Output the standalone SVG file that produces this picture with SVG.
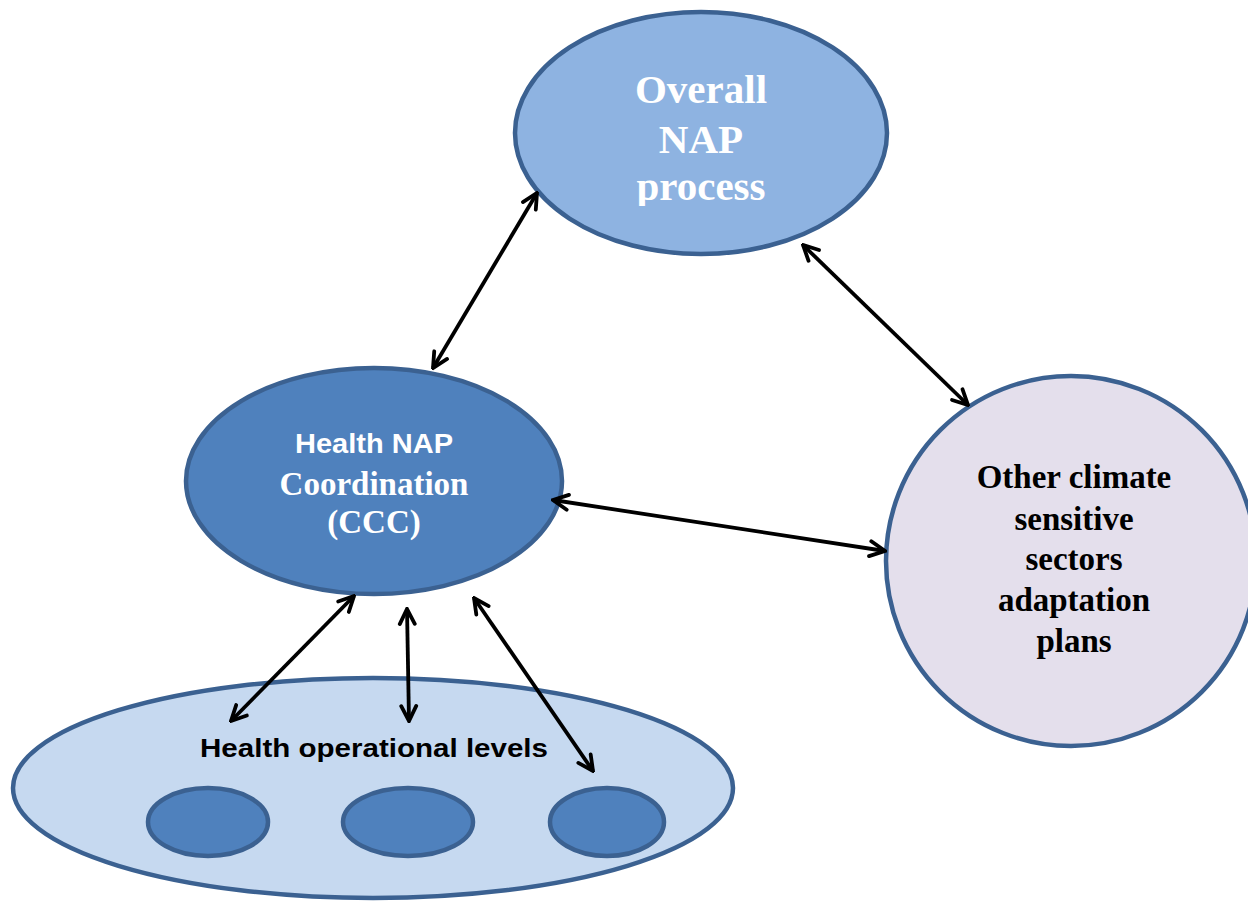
<svg xmlns="http://www.w3.org/2000/svg" width="1248" height="902" viewBox="0 0 1248 902">
  <style>
    .edge { stroke: #3b6191; stroke-width: 4.5; }
    .serif { font-family: "Liberation Serif", "Times New Roman", serif; font-weight: bold; text-anchor: middle; }
    .sans { font-family: "Liberation Sans", Arial, sans-serif; font-weight: bold; text-anchor: middle; }
    .link { stroke: #000; stroke-width: 3.8; fill: none; marker-start: url(#head); marker-end: url(#head); }
  </style>
  <defs>
    <marker id="head" viewBox="0 0 20 20" refX="18" refY="10" markerWidth="20" markerHeight="20" markerUnits="userSpaceOnUse" orient="auto-start-reverse">
      <path d="M3,2.5 L18,10 L3,17.5" fill="none" stroke="#000" stroke-width="3.8" stroke-linecap="round" stroke-linejoin="miter"/>
    </marker>
    <clipPath id="topClip">
      <rect x="500" y="0" width="400" height="206"/>
    </clipPath>
  </defs>
  <rect width="1248" height="902" fill="#fff"/>

  <!-- Overall NAP process -->
  <g id="overall-nap">
    <ellipse cx="701" cy="133" rx="186" ry="121" fill="#8eb3e1" class="edge"/>
    <g clip-path="url(#topClip)" fill="#fff" font-size="41">
      <text x="701" y="103" class="serif">Overall</text>
      <text x="701" y="153" class="serif">NAP</text>
      <text x="701" y="200" class="serif">process</text>
    </g>
  </g>

  <!-- Health NAP Coordination -->
  <g id="health-nap">
    <ellipse cx="374" cy="481" rx="188" ry="113" fill="#4f81bd" class="edge"/>
    <text x="374" y="453" class="sans" font-size="27" fill="#fff" textLength="158" lengthAdjust="spacingAndGlyphs">Health NAP</text>
    <text x="374" y="495" class="serif" font-size="33" fill="#fff">Coordination</text>
    <text x="374" y="533" class="serif" font-size="33" fill="#fff">(CCC)</text>
  </g>

  <!-- Other climate sensitive sectors -->
  <g id="other-sectors">
    <circle cx="1071" cy="561" r="185" fill="#e4dfec" class="edge"/>
    <g font-size="33" fill="#000">
      <text x="1074" y="488" class="serif">Other climate</text>
      <text x="1074" y="530" class="serif">sensitive</text>
      <text x="1074" y="570" class="serif">sectors</text>
      <text x="1074" y="611" class="serif">adaptation</text>
      <text x="1074" y="652" class="serif">plans</text>
    </g>
  </g>

  <!-- Health operational levels -->
  <g id="operational-levels">
    <ellipse cx="373" cy="788" rx="360" ry="110" fill="#c6d9f0" class="edge"/>
    <text x="374" y="757" class="sans" font-size="26" fill="#000" textLength="348" lengthAdjust="spacingAndGlyphs">Health operational levels</text>
    <ellipse cx="208" cy="822" rx="60" ry="34" fill="#4f81bd" class="edge"/>
    <ellipse cx="408" cy="822" rx="65" ry="34" fill="#4f81bd" class="edge"/>
    <ellipse cx="607" cy="822" rx="57" ry="34" fill="#4f81bd" class="edge"/>
  </g>

  <!-- Connectors -->
  <g id="connectors">
    <line class="link" x1="537" y1="193" x2="433" y2="368"/>
    <line class="link" x1="803" y1="245" x2="968" y2="405"/>
    <line class="link" x1="553" y1="500" x2="885" y2="551"/>
    <line class="link" x1="354" y1="596" x2="231" y2="721"/>
    <line class="link" x1="407" y1="609" x2="409" y2="721"/>
    <line class="link" x1="474" y1="598" x2="593" y2="771"/>
  </g>
</svg>
